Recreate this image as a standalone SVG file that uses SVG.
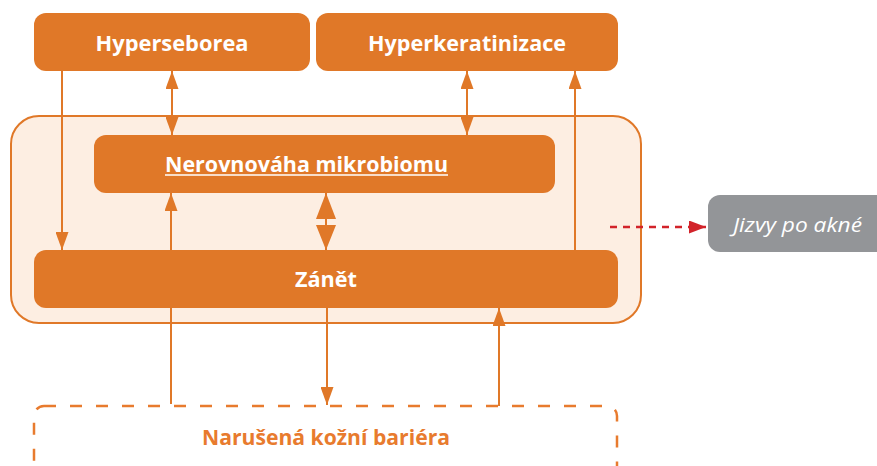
<svg xmlns="http://www.w3.org/2000/svg" width="877" height="466" viewBox="0 0 877 466">
<defs>
<style>
.box{fill:#e07828;}
.t{font-family:"Open Sans","Liberation Sans",sans-serif;font-weight:700;fill:#ffffff;font-size:22px;text-anchor:middle;}
.ln{stroke:#e07828;stroke-width:2;fill:none;}
</style>
<marker id="ah" markerUnits="userSpaceOnUse" markerWidth="18" markerHeight="13" refX="18" refY="6.5" orient="auto-start-reverse" viewBox="0 0 18 13">
<path d="M0,0 L18,6.5 L0,13 z" fill="#e07828"/>
</marker>
<marker id="rh" markerUnits="userSpaceOnUse" markerWidth="17" markerHeight="13" refX="17" refY="6.5" orient="auto" viewBox="0 0 17 13">
<path d="M0,0 L17,6.5 L0,13 z" fill="#d2232a"/>
</marker>
</defs>
<rect width="877" height="466" fill="#ffffff"/>

<g id="container">
<rect x="11" y="116" width="630" height="207" rx="28" fill="#fdeee2" stroke="#e07828" stroke-width="2"/>
</g>

<g id="hyperseborea">
<rect class="box" x="34" y="13" width="276" height="58" rx="12"/>
<text class="t" x="172" y="51" textLength="153" lengthAdjust="spacingAndGlyphs">Hyperseborea</text>
</g>

<g id="hyperkeratinizace">
<rect class="box" x="316" y="13" width="302" height="58" rx="12"/>
<text class="t" x="467" y="51" textLength="198" lengthAdjust="spacingAndGlyphs">Hyperkeratinizace</text>
</g>

<g id="nerovnovaha">
<rect class="box" x="94" y="135" width="461" height="58" rx="12"/>
<text class="t" x="306.5" y="172" textLength="283" lengthAdjust="spacingAndGlyphs">Nerovnováha mikrobiomu</text>
<line x1="165" y1="175" x2="448" y2="175" stroke="#ffffff" stroke-width="1.6"/>
</g>

<g id="zanet">
<rect class="box" x="34" y="250" width="584" height="58" rx="12"/>
<text class="t" x="326" y="287" textLength="62" lengthAdjust="spacingAndGlyphs">Zánět</text>
</g>

<g id="jizvy">
<rect x="708" y="195" width="190" height="57" rx="12" fill="#939598"/>
<text x="797.5" y="232" font-family="'Open Sans','Liberation Sans',sans-serif" font-style="italic" font-size="20" fill="#ffffff" text-anchor="middle" textLength="129" lengthAdjust="spacingAndGlyphs">Jizvy po akné</text>
</g>

<g id="bariera">
<rect x="34" y="406" width="583" height="80" rx="10" fill="none" stroke="#e87b2e" stroke-width="2.5" stroke-dasharray="12 14"/>
<text x="326" y="445" font-family="'Open Sans','Liberation Sans',sans-serif" font-weight="700" font-size="22" fill="#e87b2e" text-anchor="middle" textLength="248" lengthAdjust="spacingAndGlyphs">Narušená kožní bariéra</text>
</g>

<g id="connectors">
<line class="ln" x1="62" y1="71" x2="62" y2="250" marker-end="url(#ah)"/>
<line class="ln" x1="172" y1="71" x2="172" y2="135" marker-start="url(#ah)" marker-end="url(#ah)"/>
<line class="ln" x1="467" y1="71" x2="467" y2="135" marker-start="url(#ah)" marker-end="url(#ah)"/>
<line class="ln" x1="575" y1="250" x2="575" y2="71" marker-end="url(#ah)"/>
<line class="ln" x1="171" y1="404" x2="171" y2="193" marker-end="url(#ah)"/>
<line class="ln" x1="327" y1="308" x2="327" y2="405" marker-end="url(#ah)"/>
<line class="ln" x1="499" y1="406" x2="499" y2="308" marker-end="url(#ah)"/>
<line class="ln" x1="326" y1="193" x2="326" y2="250" stroke-width="3"/>
<polygon points="326,193 316,219 336,219" fill="#e07828"/>
<polygon points="326,250 316,225 336,225" fill="#e07828"/>
<line x1="610" y1="227" x2="706" y2="227" stroke="#d2232a" stroke-width="2.5" stroke-dasharray="7 6" marker-end="url(#rh)"/>
</g>
</svg>
